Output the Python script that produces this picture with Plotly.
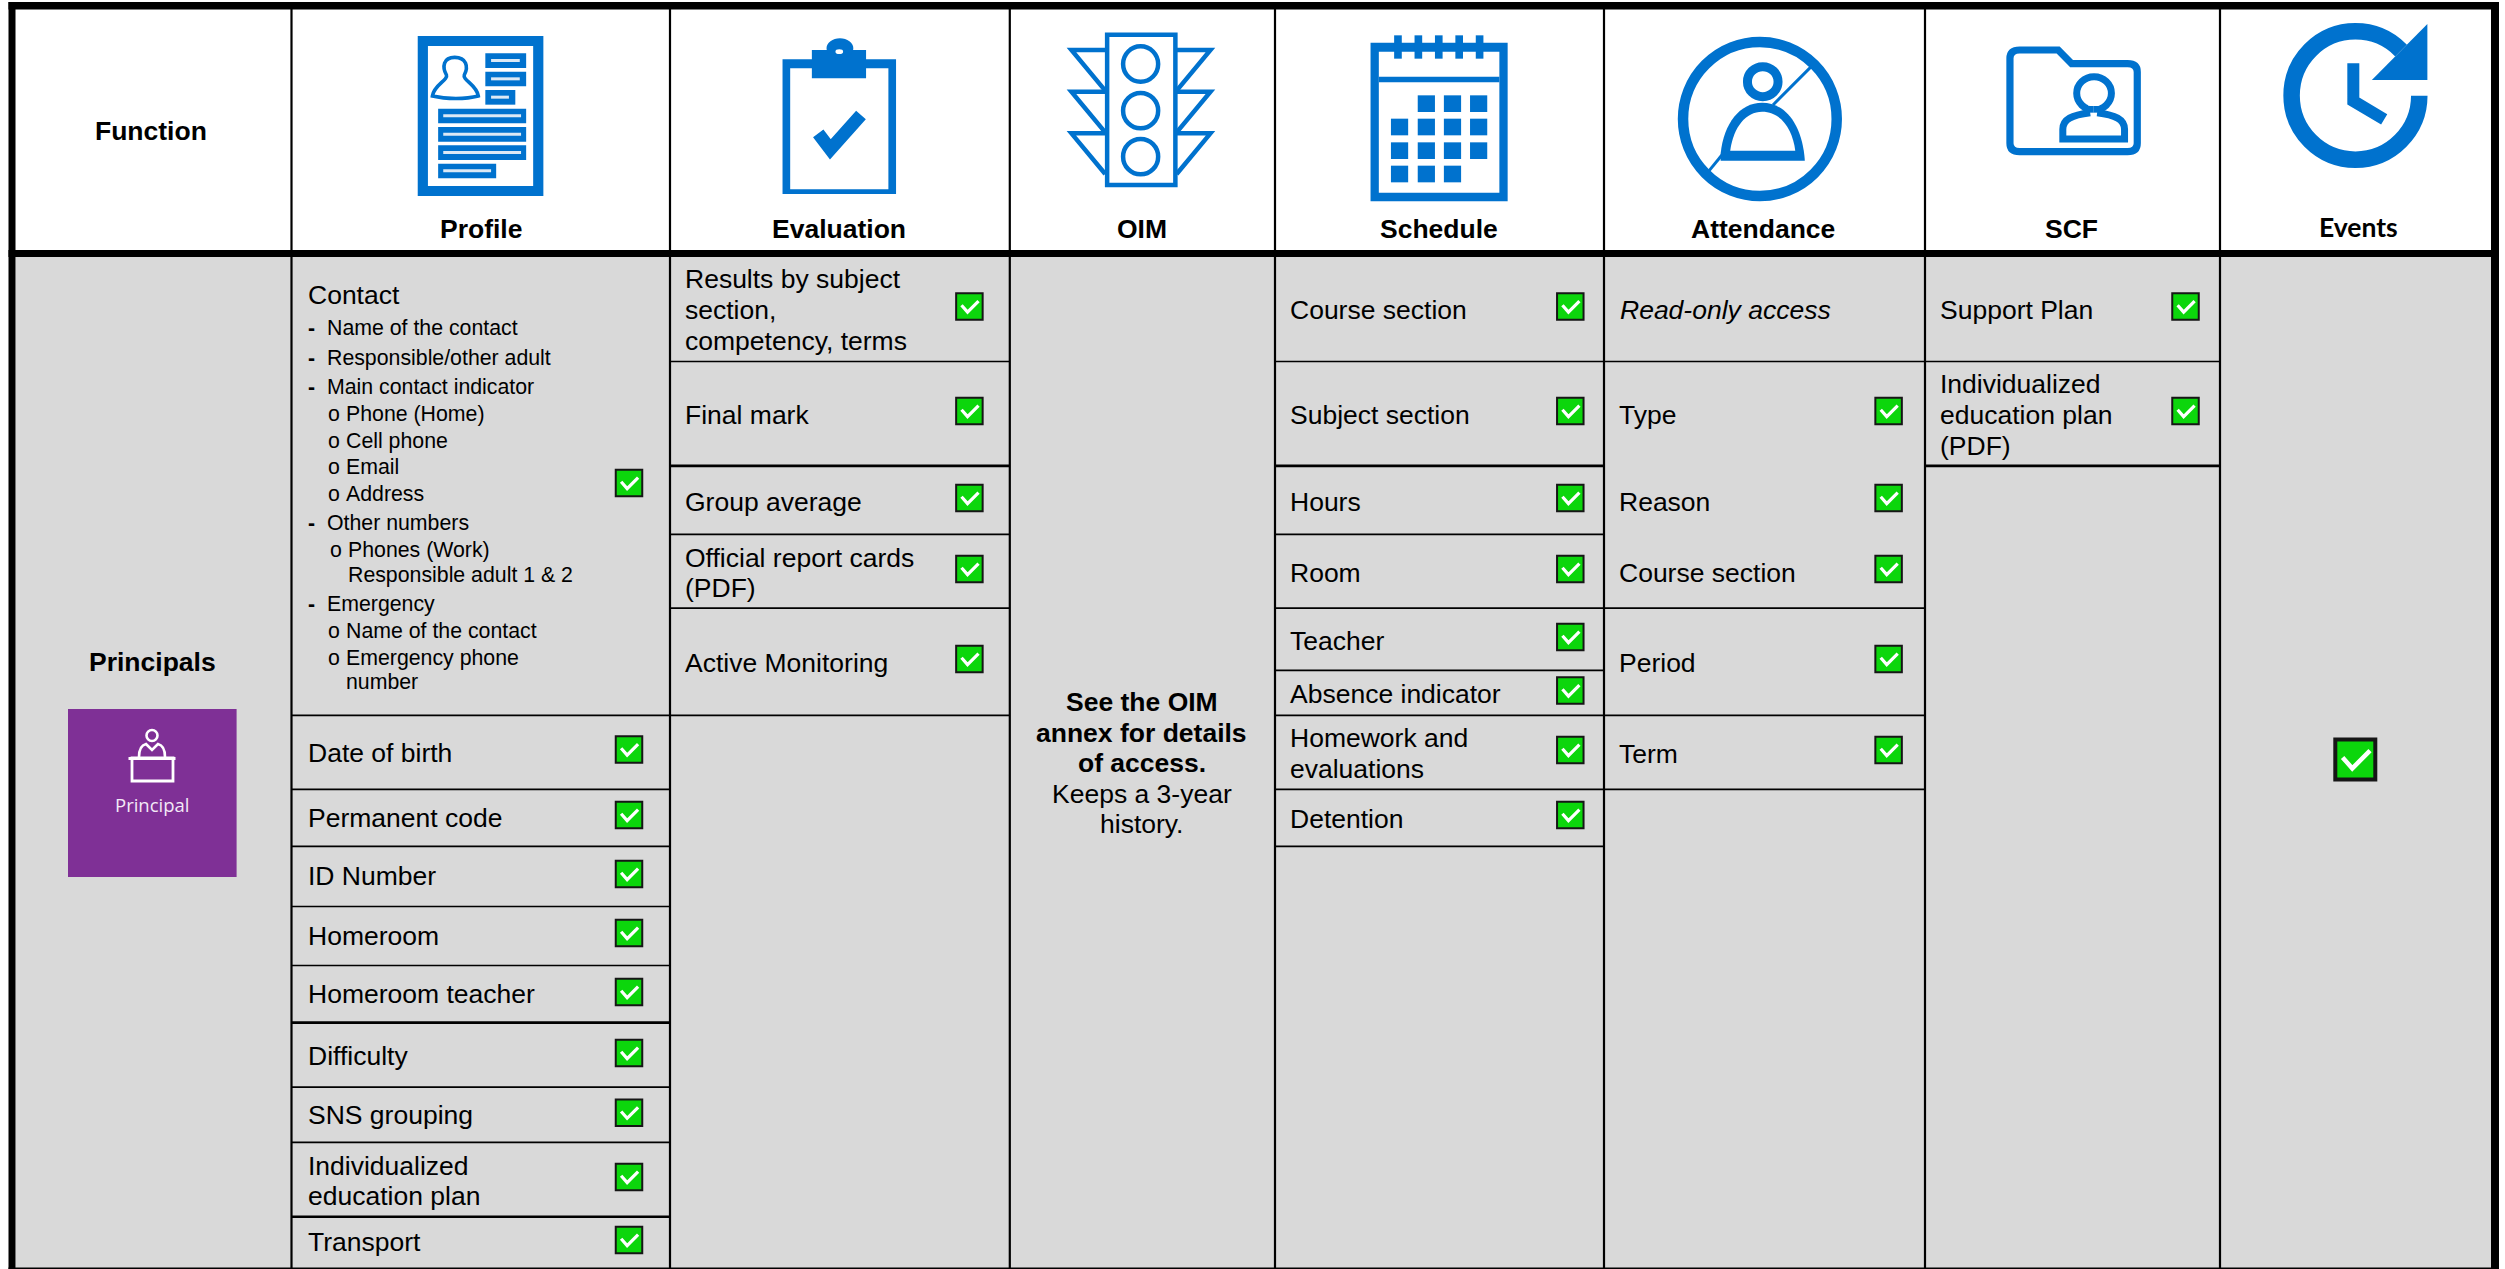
import numpy as np
import plotly.graph_objects as go

W, H = 2505, 1269
BLUE = "#0072CE"
GREY = "#D9D9D9"
FONT = "Liberation Sans"

# ---------- content ----------
function_label = "Function"
role_label = "Principals"
badge_label = "Principal"
header_labels = ["Profile", "Evaluation", "OIM", "Schedule", "Attendance", "SCF"]
header_label_x = [481, 839, 1141.6, 1438.8, 1763.4, 2071.7]
events_label = "Events"

column_edges = [15.5, 291.5, 670, 1009.8, 1275, 1604, 1925, 2220, 2491]

contact_title = "Contact"
contact_level1 = ["Name of the contact", "Responsible/other adult", "Main contact indicator", "Other numbers", "Emergency"]
contact_level1_y = [327.7, 357.7, 386.7, 522.7, 604]
contact_level2 = ["Phone (Home)", "Cell phone", "Email", "Address", "Name of the contact", "Emergency phone"]
contact_level2_y = [414, 441, 466.7, 494, 631, 658]

profile_items = ["Date of birth", "Permanent code", "ID Number", "Homeroom", "Homeroom teacher", "Difficulty",
                 "SNS grouping", "Individualized", "education plan", "Transport"]
profile_y = [753, 818, 876, 936, 994, 1056, 1115, 1165.5, 1195.5, 1242]
profile_lines = [715.3, 789.3, 846.4, 906.5, 965.5, 1022.6, 1087.2, 1142.4, 1216.8]
profile_checks = [483, 749.5, 815, 874, 933, 992, 1053, 1112.7, 1177, 1240]

evaluation_items = ["Results by subject", "section,", "competency, terms", "Final mark", "Group average",
                    "Official report cards", "(PDF)", "Active Monitoring"]
evaluation_y = [278.9, 310, 341, 415, 502, 558, 588, 662.8]
evaluation_lines = [361.5, 465.9, 534.3, 608.2, 715.4]
evaluation_checks = [306.5, 411, 498, 569, 659]

oim_bold = ["See the OIM", "annex for details", "of access."]
oim_bold_y = [701.5, 733, 763]
oim_regular = ["Keeps a 3-year", "history."]
oim_regular_y = [794, 824]

schedule_items = ["Course section", "Subject section", "Hours", "Room", "Teacher", "Absence indicator",
                  "Homework and", "evaluations", "Detention"]
schedule_y = [310, 415, 502, 573, 640.7, 693.7, 738, 769, 818.6]
schedule_lines = [361.5, 465.9, 534.3, 608.2, 670.3, 715.4, 789.3, 846.3]
schedule_checks = [306.5, 411, 498, 569, 637, 690.5, 750, 815]

attendance_note = "Read-only access"
attendance_note_y = 310
attendance_items = ["Type", "Reason", "Course section", "Period", "Term"]
attendance_y = [415, 502, 573, 662.8, 753.5]
attendance_lines = [361.5, 608.2, 715.4, 789.3]
attendance_checks = [411, 498, 569, 659, 750]

scf_items = ["Support Plan", "Individualized", "education plan", "(PDF)"]
scf_y = [310, 384, 415, 446]
scf_lines = [361.5, 465.9]
scf_checks = [306.5, 411]

events_check_y = [759.4]
heavy_rules = [465.9, 1022.6, 1216.8]

# ---------- helpers ----------
shapes = []
ann = []


def add(**k):
    k.update(xref="x", yref="y", layer="below")
    shapes.append(k)


def rect(x0, y0, x1, y1, fill=None, line=None, lw=0):
    add(type="rect", x0=x0, y0=y0, x1=x1, y1=y1, fillcolor=fill or "rgba(0,0,0,0)",
        line=dict(color=line or "rgba(0,0,0,0)", width=lw))


def oval(x0, y0, x1, y1, fill=None, line=None, lw=0):
    add(type="circle", x0=x0, y0=y0, x1=x1, y1=y1, fillcolor=fill or "rgba(0,0,0,0)",
        line=dict(color=line or "rgba(0,0,0,0)", width=lw))


def path(d, fill=None, line=None, lw=0):
    add(type="path", path=d, fillcolor=fill or "rgba(0,0,0,0)",
        line=dict(color=line or "rgba(0,0,0,0)", width=lw))


def text(s, x, y, size=26.5, anchor="left", bold=False, italic=False, color="#000", family=FONT):
    if bold:
        s = "<b>" + s + "</b>"
    if italic:
        s = "<i>" + s + "</i>"
    ann.append(dict(x=x, y=y, xref="x", yref="y", text=s, showarrow=False, xanchor=anchor, yanchor="middle",
                    align=anchor, borderpad=0, borderwidth=0,
                    font=dict(family=family, size=size, color=color)))


class Z:
    """Maps icon drawing coordinates to page coordinates."""
    def __init__(self, ox, sx, sy=3.0):
        self.ox, self.sx, self.sy = ox, sx, sy

    def x(self, v):
        return self.ox + v / self.sx

    def y(self, v):
        return v / self.sy

    def rect(self, a, b, c, d, **k):
        rect(self.x(a), self.y(b), self.x(c), self.y(d), **k)

    def oval(self, a, b, c, d, **k):
        oval(self.x(a), self.y(b), self.x(c), self.y(d), **k)

    def path(self, cmds, **k):
        out = []
        for cmd in cmds:
            if isinstance(cmd, str):
                out.append(cmd)
            else:
                out.append(f"{self.x(cmd[0]):.2f},{self.y(cmd[1]):.2f}")
        path(" ".join(out), **k)


# ---------- table ----------
rect(0, 0, W, H, fill="#FFFFFF")
rect(column_edges[0], 257, column_edges[-1], H, fill=GREY)


def hlines(col, ys):
    for y in ys:
        add(type="line", x0=column_edges[col], x1=column_edges[col + 1], y0=y, y1=y,
            line=dict(color="#000", width=2.6 if y in heavy_rules else 1.7))


hlines(1, profile_lines)
hlines(2, evaluation_lines)
hlines(4, schedule_lines)
hlines(5, attendance_lines)
hlines(6, scf_lines)

for x in column_edges[1:-1]:
    add(type="line", x0=x, x1=x, y0=9, y1=H, line=dict(color="#000", width=2.2))

rect(8.5, 2, 2499, 9.5, fill="#000")        # top
rect(8.5, 2, 15.5, H, fill="#000")          # left
rect(2491, 2, 2499, H, fill="#000")         # right
rect(8.5, 250, 2499, 257, fill="#000")      # header rule
rect(8.5, 1267.5, 2499, H, fill="#000")     # bottom

# ---------- icons ----------
# Profile
z = Z(0, 1.568)
z.rect(655, 108, 852, 588, fill=BLUE)
z.rect(671, 138, 836, 558, fill="#FFF")
for a, b, c, e, f in [(761, 160, 825, 770, 815), (761, 215, 825, 770, 815), (761, 270, 808, 770, 798),
                      (687, 326, 825, 695, 817), (687, 381, 825, 695, 817), (687, 436, 825, 695, 817),
                      (687, 491, 778, 695, 770)]:
    z.rect(a, b, c, b + 44, fill=BLUE)
    z.rect(e, b + 17, f, b + 26, fill="#DCE9F5")
z.path(["M", (713, 172), "C", (695, 172), (693, 200), (700, 225), "C", (703, 240), (680, 255), (678, 288),
        "C", (700, 298), (730, 298), (750, 288), "C", (748, 255), (725, 240), (728, 225),
        "C", (735, 200), (731, 172), (713, 172), "Z"], line=BLUE, lw=3.6)

# Evaluation
z.rect(1227, 178, 1405, 582, fill=BLUE)
z.rect(1239, 205, 1393, 568, fill="#FFF")
z.rect(1273, 150, 1358, 235, fill=BLUE)
z.oval(1296, 115, 1338, 175, fill=BLUE)
z.oval(1310, 148, 1322, 162, fill="#FFF")
z.path(["M", (1283, 400), "L", (1302, 448), "L", (1350, 345)], line=BLUE, lw=13)

# OIM
z = Z(1000, 1.568)
z.rect(168, 104, 275, 555, fill="#FFF", line=BLUE, lw=4.5)
for cy in (192, 332, 470):
    z.oval(193, cy - 53, 248, cy + 53, line=BLUE, lw=4.5)
for top in (150, 275, 400):
    z.path(["M", (165, top), "L", (112, top), "L", (165, top + 122)], line=BLUE, lw=4.5)
    z.path(["M", (277, top), "L", (330, top), "L", (277, top + 122)], line=BLUE, lw=4.5)

# Schedule
z.rect(581, 128, 796, 604, fill=BLUE)
z.rect(594, 155, 783, 578, fill="#FFF")
z.rect(594, 230, 783, 247, fill=BLUE)
for rx in (624, 656, 688, 720, 752):
    z.rect(rx - 6, 106, rx + 6, 176, fill=BLUE)
grid_x = [613, 655, 696, 737]
grid_y = [286, 356, 427, 497]
grid_on = [[1, 2, 3], [0, 1, 2, 3], [0, 1, 2, 3], [0, 1, 2]]
for r, cols in enumerate(grid_on):
    for c in cols:
        z.rect(grid_x[c], grid_y[r], grid_x[c] + 27, grid_y[r] + 50, fill=BLUE)

# Attendance
z.oval(1071, 126, 1312, 588, line=BLUE, lw=10.5)
z.path(["M", (1272, 200), "L", (1212, 315)], line=BLUE, lw=3)
z.path(["M", (1132, 465), "L", (1112, 512)], line=BLUE, lw=3)
z.oval(1172, 200, 1220, 290, line=BLUE, lw=9)
z.path(["M", (1130, 482), "L", (1130, 460), "C", (1135, 370), (1160, 308), (1195, 308),
        "C", (1230, 308), (1258, 370), (1262, 482), "Z"], fill=BLUE)
z.path(["M", (1145, 452), "C", (1150, 380), (1170, 335), (1195, 335),
        "C", (1225, 335), (1243, 390), (1247, 452), "Z"], fill="#FFF")

# SCF
z = Z(1900, 2.592)
z.path(["M", (285, 175), "Q", (285, 150), (310, 150), "L", (410, 150), "L", (445, 191), "L", (590, 191),
        "Q", (615, 191), (615, 216), "L", (615, 430), "Q", (615, 455), (590, 455), "L", (310, 455),
        "Q", (285, 455), (285, 430), "Z"], line=BLUE, lw=7.2)
z.oval(458, 230, 548, 330, line=BLUE, lw=7)
z.rect(488, 316, 516, 345, fill="#FFF")
z.path(["M", (493, 338), "C", (445, 345), (422, 358), (422, 388), "L", (422, 417), "L", (582, 417), "L", (582, 388),
        "C", (582, 358), (558, 345), (511, 338)], line=BLUE, lw=7)
z.path(["M", (493, 318), "L", (493, 338)], line=BLUE, lw=7)
z.path(["M", (511, 318), "L", (511, 338)], line=BLUE, lw=7)

# Events
z.oval(1015, 94, 1346, 479, line=BLUE, lw=16.5)
z.path(["M", (1223, 240), "L", (1367, 72), "L", (1385, 72), "L", (1385, 287), "L", (1300, 287), "L", (1300, 240), "Z"],
       fill="#FFF")
z.path(["M", (1223, 240), "L", (1367, 72), "L", (1367, 240), "Z"], fill=BLUE)
z.path(["M", (1175, 190), "L", (1175, 303), "L", (1255, 358)], line=BLUE, lw=12)

# Principal badge
rect(68, 709, 236.6, 877, fill="#7F3096")
oval(146.5, 730, 157.5, 741, line="#FFF", lw=2.6)
path("M 139,757 C 139,749 142,745 146,744 L 152,750 L 158,744 C 162,745 165,749 165,757", line="#FFF", lw=2.6)
rect(128.5, 757, 175.5, 760, fill="#FFF")
rect(132, 758, 173, 781, line="#FFF", lw=2.8)

# ---------- text ----------
text(function_label, 151, 130.7, anchor="center", bold=True)
for s, x in zip(header_labels, header_label_x):
    text(s, x, 228.5, anchor="center", bold=True)
text(events_label, 2358, 227, size=26.5, anchor="center", bold=True, family="Lato")
text(role_label, 152, 662, anchor="center", bold=True)
text(badge_label, 152, 804, size=18.5, anchor="center", color="#F3E9F7", family="Open Sans")

text(contact_title, 307.5, 295)
for s, y in zip(contact_level1, contact_level1_y):
    text("-", 308, y, size=21.3, bold=True)
    text(s, 327, y, size=21.3)
for s, y in zip(contact_level2, contact_level2_y):
    text("o", 328, y, size=21.3)
    text(s, 346, y, size=21.3)
text("o", 330, 550, size=21.3)
text("Phones (Work)", 348, 550, size=21.3)
text("Responsible adult 1 &amp; 2", 348, 575, size=21.3)
text("number", 346, 682, size=21.3)

for s, y in zip(profile_items, profile_y):
    text(s, 307.5, y)
for s, y in zip(evaluation_items, evaluation_y):
    text(s, 685, y)
for s, y in zip(oim_bold, oim_bold_y):
    text(s, 1141.6, y, anchor="center", bold=True)
for s, y in zip(oim_regular, oim_regular_y):
    text(s, 1141.6, y, anchor="center")
for s, y in zip(schedule_items, schedule_y):
    text(s, 1290, y)
text(attendance_note, 1620, attendance_note_y, italic=True)
for s, y in zip(attendance_items, attendance_y):
    text(s, 1618.5, y)
for s, y in zip(scf_items, scf_y):
    text(s, 1939.5, y)

# ---------- check boxes ----------
fig = go.Figure()


def check_trace(xs, ys, size, border, tick_w, k):
    fig.add_trace(go.Scatter(x=xs, y=ys, mode="markers", hoverinfo="skip", showlegend=False,
                             marker=dict(symbol="square", size=size, color="#0CD60C",
                                         line=dict(color="#161616", width=border))))
    tx, ty = [], []
    for x, y in zip(xs, ys):
        tx += [x - 12.7 * k, x - 3 * k, x + 14.7 * k, None]
        ty += [y - 2 * k, y + 9 * k, y - 8.7 * k, None]
    fig.add_trace(go.Scatter(x=tx, y=ty, mode="lines", hoverinfo="skip", showlegend=False,
                             line=dict(color="#FFFFFF", width=tick_w)))


check_columns = [(629, profile_checks), (969.4, evaluation_checks), (1570.3, schedule_checks),
                 (1888.6, attendance_checks), (2185.5, scf_checks)]
for cx, ys in check_columns:
    check_trace([cx] * len(ys), ys, 26.5, 2, 3.2, 0.62)
check_trace([2355.3], events_check_y, 40, 4, 4.5, 1.0)

fig.update_layout(
    width=W, height=H, margin=dict(l=0, r=0, t=0, b=0),
    paper_bgcolor="#FFFFFF", plot_bgcolor="#FFFFFF", showlegend=False,
    xaxis=dict(range=[0, W], visible=False, fixedrange=True),
    yaxis=dict(range=[H, 0], visible=False, fixedrange=True),
    shapes=shapes, annotations=ann, font=dict(family=FONT),
)
fig.write_html("out.html", config=dict(displayModeBar=False),
               post_script="document.body.style.margin='0';document.body.style.overflow='hidden';")
